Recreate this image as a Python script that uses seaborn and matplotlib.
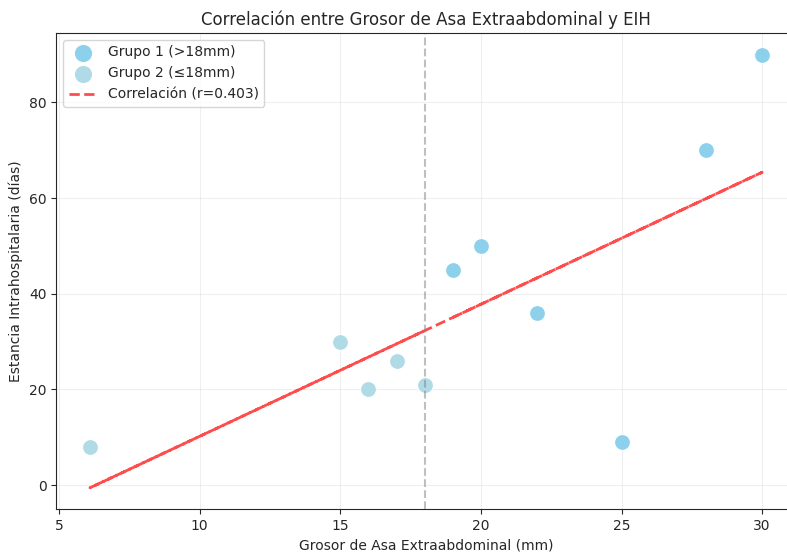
import numpy as np
import pandas as pd
import matplotlib
matplotlib.use("Agg")
import matplotlib.pyplot as plt
import seaborn as sns

g1_x = [19, 20, 22, 25, 28, 30]
g1_y = [45, 50, 36, 9, 70, 90]
g2_x = [6.1, 15, 16, 17, 18]
g2_y = [8, 30, 20, 26, 21]
threshold = 18
r_label = "Correlación (r=0.403)"

sns.set_style("ticks")
plt.rcParams['font.family'] = ['DejaVu Sans']

fig = plt.figure(figsize=(7.87, 5.59), dpi=100)
ax = fig.add_axes([0.0716, 0.0886, 0.9395, 0.8524])

df1 = pd.DataFrame({"x": g1_x, "y": g1_y})
df2 = pd.DataFrame({"x": g2_x, "y": g2_y})
sns.scatterplot(data=df1, x="x", y="y", ax=ax, color="skyblue", s=130,
                alpha=0.95, edgecolor="white", linewidth=0.8, label="Grupo 1 (>18mm)")
sns.scatterplot(data=df2, x="x", y="y", ax=ax, color="lightblue", s=130,
                alpha=0.95, edgecolor="white", linewidth=0.8, label="Grupo 2 (≤18mm)")

all_x = np.array(g1_x + g2_x)
all_y = np.array(g1_y + g2_y)
coef = np.polyfit(all_x, all_y, 1)
ax.plot(all_x, np.polyval(coef, all_x), "r--", alpha=0.7, linewidth=2, label=r_label)

ax.axvline(threshold, color="gray", linestyle="--", alpha=0.5)

ax.set_title("Correlación entre Grosor de Asa Extraabdominal y EIH", fontsize=12)
ax.set_xlabel("Grosor de Asa Extraabdominal (mm)", fontsize=10)
ax.set_ylabel("Estancia Intrahospitalaria (días)", fontsize=10)
ax.grid(True, alpha=0.3)
for sp in ax.spines.values():
    sp.set_visible(True)
ax.legend(loc="upper left", markerscale=1.15)

fig.savefig("out.png", dpi=100)
